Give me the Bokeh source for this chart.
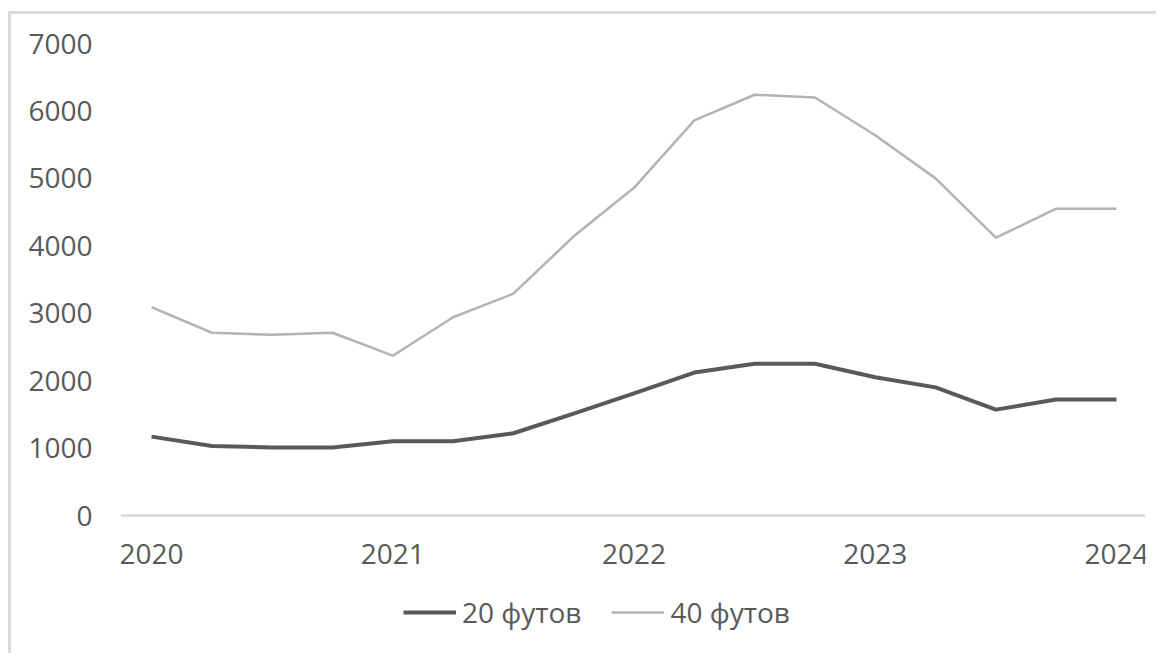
from bokeh.plotting import figure
from bokeh.models import Range1d, FixedTicker, Legend, LegendItem, LinearAxis
from bokeh.embed import file_html
from bokeh.resources import INLINE

# ---- data ----
quarters = [2020.0, 2020.25, 2020.5, 2020.75,
            2021.0, 2021.25, 2021.5, 2021.75,
            2022.0, 2022.25, 2022.5, 2022.75,
            2023.0, 2023.25, 2023.5, 2023.75,
            2024.0]
ft20 = [1170, 1030, 1010, 1010, 1100, 1100, 1220, 1510, 1810,
        2120, 2250, 2250, 2050, 1900, 1570, 1720, 1720]
ft40 = [3090, 2710, 2680, 2710, 2370, 2940, 3290, 4140, 4860,
        5860, 6240, 6200, 5640, 5000, 4120, 4550, 4550]
series_names = ["20 футов", "40 футов"]
year_ticks = [2020, 2021, 2022, 2023, 2024]
year_labels = ["2020", "2021", "2022", "2023", "2024"]
y_ticks = [0, 1000, 2000, 3000, 4000, 5000, 6000, 7000]
y_labels = ["0", "1000", "2000", "3000", "4000", "5000", "6000", "7000"]

FONT = "Open Sans"
TXT = "#595959"

# The plot frame extends below the zero line so that the legend (which sits
# under the axis labels, as in the reference) is inside the frame.
p = figure(width=1148, height=642, output_backend="svg", toolbar_location=None,
           x_range=Range1d(2019.8715, 2024.1202), y_range=Range1d(-2091, 7000),
           x_axis_location=None,
           min_border_left=109, min_border_right=14, min_border_top=29,
           min_border_bottom=0, background_fill_color="white",
           border_fill_color="white")
p.styles = {"border-left": "3px solid #d9d9d9", "border-top": "3px solid #d9d9d9",
            "margin-top": "11px", "margin-left": "8px"}
p.outline_line_color = None
p.xgrid.visible = False
p.ygrid.visible = False

r1 = p.line(quarters, ft20, line_color="#595959", line_width=4, line_join="round")
r2 = p.line(quarters, ft40, line_color="#b3b3b3", line_width=2.5, line_join="round")

xaxis = LinearAxis(fixed_location=0)
p.add_layout(xaxis, "below")

xaxis.ticker = FixedTicker(ticks=year_ticks)
xaxis.major_label_overrides = {t: l for t, l in zip(year_ticks, year_labels)}
yaxis = p.yaxis[0]
yaxis.ticker = FixedTicker(ticks=y_ticks)
yaxis.major_label_overrides = {t: l for t, l in zip(y_ticks, y_labels)}

for ax in (xaxis, yaxis):
    ax.major_tick_line_color = None
    ax.minor_tick_line_color = None
    ax.major_tick_in = 0
    ax.major_tick_out = 0
    ax.minor_tick_in = 0
    ax.minor_tick_out = 0
    ax.major_label_text_font = FONT
    ax.major_label_text_font_size = "28px"
    ax.major_label_text_color = TXT

yaxis.axis_line_color = None
yaxis.major_label_standoff = 28
xaxis.axis_line_color = "#d9d9d9"
xaxis.axis_line_width = 2.5
xaxis.major_label_standoff = 28

legend = Legend(items=[LegendItem(label=series_names[0], renderers=[r1]),
                       LegendItem(label=series_names[1], renderers=[r2])],
                location=(283, 25), orientation="horizontal",
                glyph_width=53, glyph_height=20, label_standoff=6, spacing=30,
                padding=0, margin=0, border_line_color=None,
                background_fill_alpha=0,
                label_text_font=FONT, label_text_font_size="28px",
                label_text_color=TXT)
p.add_layout(legend, "center")

open("out.html", "w").write(file_html(p, INLINE))
